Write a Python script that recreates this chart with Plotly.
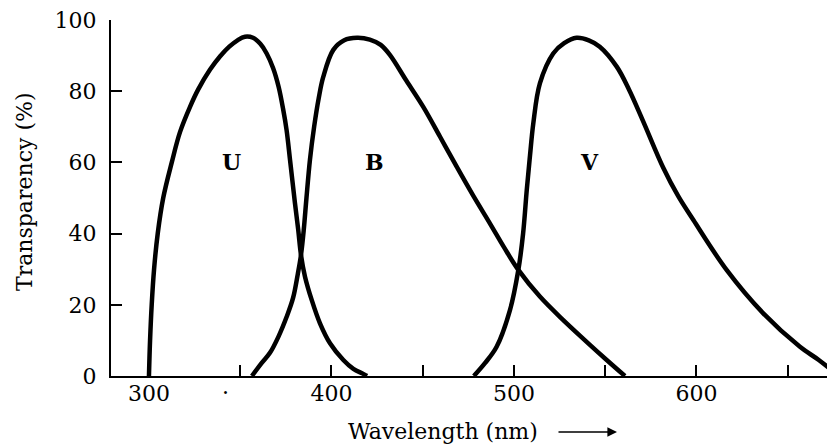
import plotly.graph_objects as go

# U filter (wavelength nm, transparency %)
u_wl = [300, 300.6, 301.5, 302.8, 304.8, 307.8, 312.5, 317, 322.5, 327, 333.4, 339, 344,
        348.5, 352.6, 357, 361, 364.5, 368, 371, 373.5, 375.4, 377.3, 380, 381.8, 383.3,
        385.5, 389.2, 393.7, 399.2, 406.5, 412, 417.4, 419.5]
u_t = [0, 10, 20, 30, 40, 50, 60, 68.5, 75.6, 80.5, 86, 89.8, 92.5,
       94.3, 95.3, 95, 93.3, 90.6, 86.5, 81.3, 75, 69.1, 60.7, 48.5, 41, 34,
       27.9, 21.3, 14.8, 9.2, 4.5, 2, 0.6, 0]

# B filter
b_wl = [356.4, 361.7, 366.3, 370.9, 375.5, 379, 381.5, 383.3, 384.8, 386.3, 388.2, 390.5,
        393, 395.5, 401, 407, 414, 421, 427, 432, 441, 450.3, 459.5, 468.6, 477.5, 486.8,
        494.5, 502.4, 514.2, 527, 539.8, 550.8, 560.8]
b_t = [0, 3.6, 6.5, 11, 16.7, 22, 28.5, 34, 41, 50, 60.7, 70,
       78, 84, 91.6, 94.3, 95, 94.5, 93, 90.2, 83, 75.6, 67.2, 58.8, 50.8, 42.9,
       36.2, 29.8, 22.3, 15.7, 9.6, 4.5, 0]

# V filter
v_wl = [478, 484.1, 490.5, 497.8, 502.4, 505, 507, 508.8, 510.6, 514.2, 521.5, 527.5,
        534.3, 541, 547, 556.3, 563, 570.5, 581.8, 590, 598.3, 616.5, 636.6, 656.7, 667, 676]
v_t = [0, 3.6, 8.2, 18.5, 29.8, 40, 52.2, 62, 71, 82.2, 90.6, 93.5,
       95, 94.3, 92.5, 86.9, 80.5, 71.9, 58.5, 50.5, 43.8, 29.8, 17.6, 8.2, 4.5, 0.8]

x_ticks = [300, 350, 400, 450, 500, 550, 600, 650]
x_tick_text = ["300", "", "400", "", "500", "", "600", ""]
y_ticks = [0, 20, 40, 60, 80, 100]

labels = ["U", "B", "V"]
label_wl = [345.3, 423.8, 541.6]
label_t = [60, 60, 60]

FONT = "DejaVu Serif"
OFF = 8                                        # browser body margin
W, H = 835 - OFF, 446 - OFF
PX_L, PX_R, PX_T, PX_B = 111, 835, 20, 376     # plot area in window pixels


def px_to_paper(px, py):
    return (px - PX_L) / (PX_R - PX_L), (PX_B - py) / (PX_B - PX_T)


fig = go.Figure()
for wl, t, name in [(u_wl, u_t, "U"), (b_wl, b_t, "B"), (v_wl, v_t, "V")]:
    fig.add_trace(go.Scatter(x=wl, y=t, mode="lines", name=name,
                             line=dict(color="black", width=4.5, shape="spline", smoothing=1.0),
                             showlegend=False))

for txt, x, y in zip(labels, label_wl, label_t):
    fig.add_annotation(x=x, y=y, text="<b>" + txt + "</b>", showarrow=False,
                       xanchor="center", yanchor="middle",
                       font=dict(family=FONT, size=22, color="black"))

# axis titles
tx, ty = px_to_paper(25, 192)
fig.add_annotation(xref="paper", yref="paper", x=tx, y=ty, text="Transparency (%)",
                   textangle=-90, showarrow=False, xanchor="center", yanchor="middle",
                   font=dict(family=FONT, size=22, color="black"))
tx, ty = px_to_paper(443, 431)
fig.add_annotation(xref="paper", yref="paper", x=tx, y=ty, text="Wavelength (nm)",
                   showarrow=False, xanchor="center", yanchor="middle",
                   font=dict(family=FONT, size=22, color="black"))
tx, ty = px_to_paper(617, 432)
fig.add_annotation(xref="paper", yref="paper", x=tx, y=ty, text="", showarrow=True,
                   ax=-60, ay=0, arrowhead=2, arrowsize=1.2, arrowwidth=1.6, arrowcolor="black")
# stray mark under axis
tx, ty = px_to_paper(225, 372)
fig.add_annotation(xref="paper", yref="paper", x=tx, y=ty, text=".", showarrow=False,
                   xanchor="center", yanchor="top",
                   font=dict(family=FONT, size=22, color="black"))

fig.update_layout(
    width=W, height=H,
    margin=dict(l=PX_L - OFF, r=835 - PX_R, t=PX_T - OFF, b=446 - PX_B, autoexpand=False),
    paper_bgcolor="white", plot_bgcolor="white",
    font=dict(family=FONT, size=22, color="black"),
    xaxis=dict(range=[279.2, 675.9], tickvals=x_ticks, ticktext=x_tick_text,
               ticks="inside", ticklen=11, tickwidth=2, tickcolor="black",
               showline=True, linecolor="black", linewidth=2, showgrid=False, zeroline=False,
               automargin=False, ticklabelstandoff=-3, ticklabeloverflow="allow",
               tickfont=dict(family=FONT, size=22)),
    yaxis=dict(range=[0, 100], tickvals=y_ticks,
               ticks="inside", ticklen=11, tickwidth=2, tickcolor="black",
               showline=True, linecolor="black", linewidth=2, showgrid=False, zeroline=False,
               automargin=False, ticklabelstandoff=8, ticklabeloverflow="allow",
               tickfont=dict(family=FONT, size=22)),
)

fig.write_html("out.html")
